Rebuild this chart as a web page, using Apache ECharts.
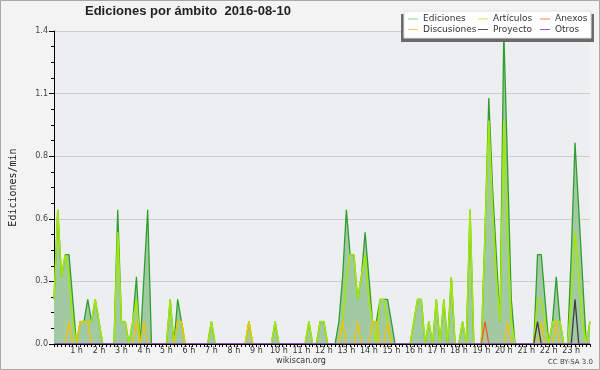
<!DOCTYPE html>
<html><head><meta charset="utf-8">
<script src="https://cdn.jsdelivr.net/npm/echarts@6/dist/echarts.min.js"></script>
<style>html,body{margin:0;padding:0;background:#f3f3f3}#c{width:600px;height:370px}</style>
</head><body><div id="c"></div>
<script>
// 10-minute bins (144), values in edits/min
const hourLabels = ['1 h','2 h','3 h','4 h','5 h','6 h','7 h','8 h','9 h','10 h','11 h','12 h','13 h','14 h','15 h','16 h','17 h','18 h','19 h','20 h','21 h','22 h','23 h'];
const yTickLabels = ['0.0','0.3','0.6','0.8','1.1','1.4'];
const ediciones = [
0.2,0.6,0.3,0.4,0.4,0.2, 0,0.1,0.1,0.2,0.1,0.2,
0.1,0,0,0,0,0.6, 0.1,0.1,0,0.1,0.3,0,
0.3,0.6,0,0,0,0, 0,0.2,0,0.2,0.1,0,
0,0,0,0,0,0, 0.1,0,0,0,0,0,
0,0,0,0,0.1,0, 0,0,0,0,0,0.1,
0,0,0,0,0,0, 0,0,0.1,0,0,0.1,
0.1,0,0,0,0.1,0.3, 0.6,0.4,0.4,0.2,0.3,0.5,
0.3,0.1,0.1,0.2,0.2,0.2, 0.1,0,0,0,0,0,
0.1,0.2,0.2,0,0.1,0, 0.2,0,0.2,0,0.3,0,
0,0.1,0,0.6,0,0, 0,0.5,1.1,0.7,0.4,0.1,
1.4,0.8,0.2,0,0,0, 0,0,0,0.4,0.4,0.2,
0,0.1,0.3,0.1,0,0, 0.4,0.9,0.6,0.3,0,0.1];
const articulos = [
0.2,0.6,0.3,0.4,0.3,0.1, 0,0.1,0.1,0.1,0.1,0.2,
0.1,0,0,0,0,0.5, 0.1,0.1,0,0.1,0.2,0,
0,0,0,0,0,0, 0,0.2,0,0.1,0.1,0,
0,0,0,0,0,0, 0.1,0,0,0,0,0,
0,0,0,0,0.1,0, 0,0,0,0,0,0.1,
0,0,0,0,0,0, 0,0,0.1,0,0,0.1,
0.1,0,0,0,0,0.1, 0.3,0.4,0.4,0.2,0.3,0.4,
0.2,0.1,0,0.2,0.2,0.1, 0,0,0,0,0,0,
0.1,0.2,0.2,0,0.1,0, 0.2,0,0.2,0,0.3,0,
0,0.1,0,0.6,0,0, 0,0.5,1.0,0.6,0.3,0.1,
1.0,0.5,0.1,0,0,0, 0,0,0,0.2,0.2,0.1,
0,0.1,0.1,0.1,0,0, 0.2,0.5,0.3,0.1,0,0.1];
const anexos = [
0,0,0,0,0,0, 0,0,0,0,0,0,
0,0,0,0,0,0, 0,0,0,0,0,0,
0,0,0,0,0,0, 0,0,0,0,0,0,
0,0,0,0,0,0, 0,0,0,0,0,0,
0,0,0,0,0,0, 0,0,0,0,0,0,
0,0,0,0,0,0, 0,0,0,0,0,0,
0,0,0,0,0,0, 0,0,0,0,0,0,
0,0,0,0,0,0, 0,0,0,0,0,0,
0,0,0,0,0,0, 0,0,0,0,0,0,
0,0,0,0,0,0, 0,0.1,0,0,0,0,
0,0,0,0,0,0, 0,0,0,0,0,0,
0,0,0,0,0,0, 0,0,0,0,0,0];
const discusiones = [
0,0,0,0,0.1,0, 0,0.1,0.1,0.1,0,0,
0,0,0,0,0,0, 0,0,0,0,0.1,0,
0.1,0,0,0,0,0, 0,0,0,0.1,0.1,0,
0,0,0,0,0,0, 0,0,0,0,0,0,
0,0,0,0,0.1,0, 0,0,0,0,0,0,
0,0,0,0,0,0, 0,0,0,0,0,0,
0,0,0,0,0,0.1, 0,0,0,0.1,0,0,
0,0.1,0.1,0,0,0.1, 0,0,0,0,0,0,
0,0,0,0,0,0, 0,0,0,0,0,0,
0,0,0,0,0,0, 0,0,0,0,0,0,
0,0.1,0,0,0,0, 0,0,0,0,0.1,0,
0,0,0.1,0,0,0, 0,0,0,0,0,0];
const proyecto = [
0,0,0,0,0,0, 0,0,0,0,0,0,
0,0,0,0,0,0, 0,0,0,0,0,0,
0,0,0,0,0,0, 0,0,0,0,0,0,
0,0,0,0,0,0, 0,0,0,0,0,0,
0,0,0,0,0,0, 0,0,0,0,0,0,
0,0,0,0,0,0, 0,0,0,0,0,0,
0,0,0,0,0,0, 0,0,0,0,0,0,
0,0,0,0,0,0, 0,0,0,0,0,0,
0,0,0,0,0,0, 0,0,0,0,0,0,
0,0,0,0,0,0, 0,0,0,0,0,0,
0,0,0,0,0,0, 0,0,0,0.1,0,0,
0,0,0,0,0,0, 0,0.2,0,0,0,0];
const otros = [
0,0,0,0,0,0, 0,0,0,0,0,0,
0,0,0,0,0,0, 0,0,0,0,0,0,
0,0,0,0,0,0, 0,0,0,0,0,0,
0,0,0,0,0,0, 0,0,0,0,0,0,
0,0,0,0,0,0, 0,0,0,0,0,0,
0,0,0,0,0,0, 0,0,0,0,0,0,
0,0,0,0,0,0, 0,0,0,0,0,0,
0,0,0,0,0,0, 0,0,0,0,0,0,
0,0,0,0,0,0, 0,0,0,0,0,0,
0,0,0,0,0,0, 0,0,0,0,0,0,
0,0,0,0,0,0, 0,0,0,0,0,0,
0,0,0,0,0,0, 0,0,0,0,0,0];

const categories = ediciones.map((_, i) => (i % 6 === 0 && i > 0) ? hourLabels[i / 6 - 1] : '');
const FONT = 'DejaVu Sans';
const colors = {
  ediciones: '#2f9e2f', articulos: '#a2e60a', anexos: '#ff5522',
  discusiones: '#f2c200', proyecto: '#3c3c3c', otros: '#9a50e0'
};
const legendItems = [
  {name: 'Ediciones', color: '#8ccf8c', col: 0, row: 0},
  {name: 'Artículos', color: '#c6ec5a', col: 1, row: 0},
  {name: 'Anexos', color: '#ff8050', col: 2, row: 0},
  {name: 'Discusiones', color: '#ffd050', col: 0, row: 1},
  {name: 'Proyecto', color: '#555555', col: 1, row: 1},
  {name: 'Otros', color: '#9955ee', col: 2, row: 1}
];
const colX = [408, 478, 540];
const rowY = [19, 29.5];

const graphics = [
  {type: 'rect', shape: {x: 0.5, y: 0.5, width: 599, height: 369}, style: {fill: 'none', stroke: '#a8a8a8', lineWidth: 1}, z: 100, silent: true},
  {type: 'rect', shape: {x: 401, y: 14, width: 193, height: 28}, style: {fill: '#6a6a6a'}, z: 100},
  {type: 'rect', shape: {x: 404, y: 11, width: 187, height: 27}, style: {fill: '#ffffff', stroke: '#e0e0e0', lineWidth: 1}, z: 101},
  {type: 'text', x: 301, y: 361, style: {text: 'wikiscan.org', font: '8px "DejaVu Sans"', fill: '#333', textAlign: 'center', textVerticalAlign: 'middle'}, z: 100},
  {type: 'text', x: 593, y: 362, style: {text: 'CC BY-SA 3.0', font: '7px "DejaVu Sans"', fill: '#444', textAlign: 'right', textVerticalAlign: 'middle'}, z: 100}
];
legendItems.forEach(it => {
  const x = colX[it.col], y = rowY[it.row];
  graphics.push({type: 'line', shape: {x1: x, y1: y, x2: x + 10, y2: y}, style: {stroke: it.color, lineWidth: 1}, z: 102});
  graphics.push({type: 'text', x: x + 15, y: y, style: {text: it.name, font: '9px "DejaVu Sans"', fill: '#333', textVerticalAlign: 'middle'}, z: 102});
});

function lineSeries(name, data, color, width, extra) {
  return Object.assign({
    name, type: 'line', data, symbol: 'none', smooth: false,
    lineStyle: {color, width}, itemStyle: {color}, animation: false
  }, extra || {});
}

const chart = echarts.init(document.getElementById('c'), null, {renderer: 'canvas'});
chart.setOption({
  backgroundColor: '#f3f3f3',
  animation: false,
  title: {
    text: 'Ediciones por ámbito  2016-08-10', left: 85, top: 5, padding: 0,
    textStyle: {fontFamily: 'Liberation Sans', fontSize: 13, fontWeight: 'bold', color: '#222'}
  },
  grid: {left: 46, right: 10, top: 31, bottom: 26, show: true, backgroundColor: '#eceef0', borderWidth: 0},
  xAxis: {
    type: 'category', data: categories, boundaryGap: false, z: 10,
    axisLine: {lineStyle: {color: '#000', width: 1}},
    axisTick: {interval: 0, length: 3, lineStyle: {color: '#000'}},
    axisLabel: {interval: (i) => i % 6 === 0 && i > 0, fontFamily: FONT, fontSize: 8, color: '#333', margin: 3},
    splitLine: {show: false}
  },
  yAxis: {
    type: 'value', min: 0, max: 1.4, interval: 0.28,
    name: 'Ediciones/min', nameLocation: 'middle', nameGap: 36, nameRotate: 90,
    nameTextStyle: {fontFamily: 'DejaVu Sans Mono', fontSize: 10, color: '#222'},
    axisLine: {show: true, lineStyle: {color: '#000'}},
    axisTick: {show: true, length: 5, lineStyle: {color: '#000'}},
    minorTick: {show: true, splitNumber: 4, length: 3, lineStyle: {color: '#000'}},
    axisLabel: {fontFamily: FONT, fontSize: 8, color: '#444', margin: 6,
      formatter: (v) => yTickLabels[Math.round(v / 0.28)]},
    splitLine: {show: true, lineStyle: {color: '#cccccc', width: 1}}
  },
  graphic: graphics,
  series: [
    lineSeries('Ediciones', ediciones, colors.ediciones, 1.3, {areaStyle: {color: '#a2caa2', opacity: 1}}),
    lineSeries('Artículos', articulos, colors.articulos, 1.6),
    lineSeries('Anexos', anexos, colors.anexos, 1.3),
    lineSeries('Discusiones', discusiones, colors.discusiones, 1.3),
    lineSeries('Proyecto', proyecto, colors.proyecto, 1.3),
    lineSeries('Otros', otros, colors.otros, 1.3)
  ]
});
</script></body></html>
